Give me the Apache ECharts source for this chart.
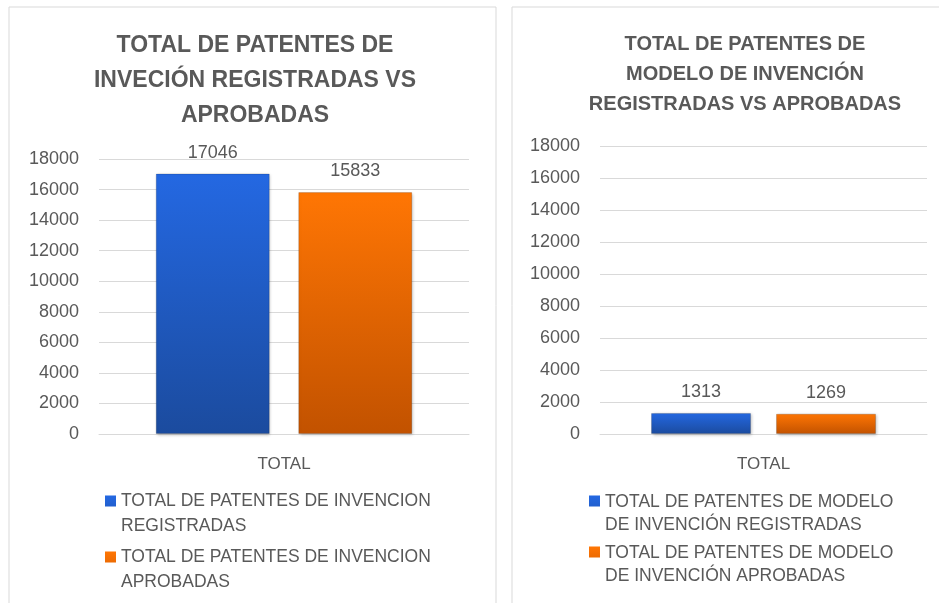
<!DOCTYPE html>
<html>
<head>
<meta charset="utf-8">
<script src="https://cdn.jsdelivr.net/npm/echarts@6/dist/echarts.min.js"></script>
<style>
  html, body { margin: 0; padding: 0; background: #fff; }
  #container { width: 939px; height: 603px; }
</style>
</head>
<body>
<div id="container"></div>
<script>
var dom = document.getElementById("container");
var myChart = echarts.init(dom);

// data
var categories = ['TOTAL'];
var invRegistradas = [17046];
var invAprobadas = [15833];
var modRegistradas = [1313];
var modAprobadas = [1269];

var seriesNames = [
    'TOTAL DE PATENTES DE INVENCION REGISTRADAS',
    'TOTAL DE PATENTES DE INVENCION APROBADAS',
    'TOTAL DE PATENTES DE MODELO DE INVENCIÓN REGISTRADAS',
    'TOTAL DE PATENTES DE MODELO DE INVENCIÓN APROBADAS'
];
var legendLabels = {};
legendLabels[seriesNames[0]] = 'TOTAL DE PATENTES DE INVENCION\nREGISTRADAS';
legendLabels[seriesNames[1]] = 'TOTAL DE PATENTES DE INVENCION\nAPROBADAS';
legendLabels[seriesNames[2]] = 'TOTAL DE PATENTES DE MODELO\nDE INVENCIÓN REGISTRADAS';
legendLabels[seriesNames[3]] = 'TOTAL DE PATENTES DE MODELO\nDE INVENCIÓN APROBADAS';

var textColor = '#595959';
var gridColor = '#d9d9d9';
var font = '"Liberation Sans", Arial, sans-serif';

var blueFill = new echarts.graphic.LinearGradient(0, 0, 0, 1, [
    { offset: 0, color: '#2468e2' },
    { offset: 1, color: '#1b4b9e' }
]);
var orangeFill = new echarts.graphic.LinearGradient(0, 0, 0, 1, [
    { offset: 0, color: '#ff7604' },
    { offset: 1, color: '#c25200' }
]);

// legend icon: square aligned with the first text line
var legendIcon = 'path://M0,0H11V11H0Z M10.9999,36.9999H11V37H10.9999Z';

function yAxisFor(gridIndex) {
    return {
        type: 'value',
        gridIndex: gridIndex,
        min: 0,
        max: 18000,
        interval: 2000,
        axisLine: { show: false },
        axisTick: { show: false },
        axisLabel: {
            color: textColor, fontSize: 18, fontFamily: font, margin: 20,
            formatter: function (v) { return String(v); }
        },
        splitLine: { lineStyle: { color: gridColor, width: 1 } }
    };
}

function xAxisFor(gridIndex) {
    return {
        type: 'category',
        gridIndex: gridIndex,
        data: categories,
        axisLine: { show: true, lineStyle: { color: gridColor } },
        axisTick: { show: false },
        axisLabel: { color: textColor, fontSize: 17, fontFamily: font, margin: 22 }
    };
}

function barSeries(name, gridIndex, data, fill, width) {
    return {
        name: name,
        type: 'bar',
        xAxisIndex: gridIndex,
        yAxisIndex: gridIndex,
        barWidth: width,
        barGap: '25%',
        data: data,
        itemStyle: {
            color: fill,
            borderColor: 'rgba(0,0,0,0.15)',
            borderWidth: 1,
            shadowBlur: 3,
            shadowColor: 'rgba(0,0,0,0.25)',
            shadowOffsetX: 1,
            shadowOffsetY: 1
        },
        label: {
            show: true,
            position: 'top',
            distance: 12,
            color: textColor,
            fontSize: 18,
            fontFamily: font
        }
    };
}

var legendBase = {
    orient: 'vertical',
    icon: legendIcon,
    itemWidth: 11,
    itemHeight: 37,
    itemGap: 6,
    padding: 0,
    height: 112,
    selectedMode: false,
    itemStyle: { borderWidth: 0, shadowBlur: 0, shadowOffsetX: 0, shadowOffsetY: 0 },
    formatter: function (name) { return legendLabels[name]; }
};

option = {
    backgroundColor: '#ffffff',
    animation: false,
    title: [{
        text: 'TOTAL DE PATENTES DE\nINVECIÓN REGISTRADAS VS\nAPROBADAS',
        left: 250,
        top: 23,
        textAlign: 'center',
        textStyle: {
            color: textColor, fontSize: 23, fontWeight: 'bold',
            fontFamily: font, lineHeight: 35
        }
    }, {
        text: 'TOTAL DE PATENTES DE\nMODELO DE INVENCIÓN\nREGISTRADAS VS APROBADAS',
        left: 740,
        top: 24,
        textAlign: 'center',
        textStyle: {
            color: textColor, fontSize: 20, fontWeight: 'bold',
            fontFamily: font, lineHeight: 30
        }
    }],
    graphic: [{
        type: 'rect',
        shape: { x: 9, y: 7, width: 487, height: 620 },
        style: { fill: 'none', stroke: '#d9d9d9', lineWidth: 1 },
        silent: true
    }, {
        type: 'rect',
        shape: { x: 512, y: 7, width: 440, height: 620 },
        style: { fill: 'none', stroke: '#d9d9d9', lineWidth: 1 },
        silent: true
    }],
    legend: [
        Object.assign({}, legendBase, {
            left: 105,
            top: 489,
            data: [seriesNames[0], seriesNames[1]],
            textStyle: { color: textColor, fontSize: 17.5, fontFamily: font, lineHeight: 25 }
        }),
        Object.assign({}, legendBase, {
            left: 589,
            top: 491,
            itemGap: 5,
            data: [seriesNames[2], seriesNames[3]],
            textStyle: { color: textColor, fontSize: 17.5, fontFamily: font, lineHeight: 23 }
        })
    ],
    grid: [{
        left: 99, right: 470, top: 159, bottom: 169, containLabel: false
    }, {
        left: 600, right: 12, top: 146, bottom: 169, containLabel: false
    }],
    xAxis: [xAxisFor(0), xAxisFor(1)],
    yAxis: [yAxisFor(0), yAxisFor(1)],
    series: [
        barSeries(seriesNames[0], 0, invRegistradas, blueFill, 114),
        barSeries(seriesNames[1], 0, invAprobadas, orangeFill, 114),
        barSeries(seriesNames[2], 1, modRegistradas, blueFill, 100),
        barSeries(seriesNames[3], 1, modAprobadas, orangeFill, 100)
    ]
};

if (option && typeof option === "object") {
    myChart.setOption(option, true);
}
</script>
</body>
</html>
